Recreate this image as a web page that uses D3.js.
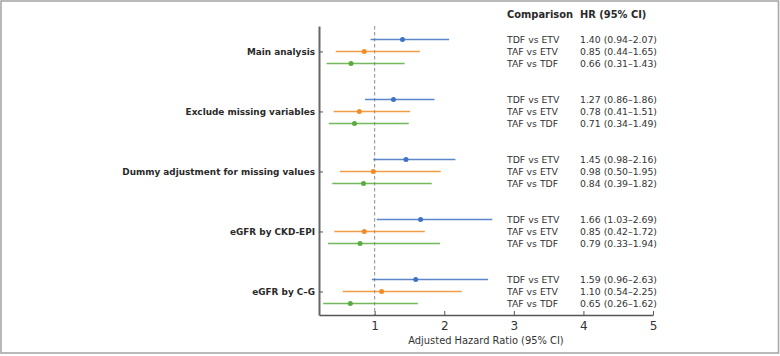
<!DOCTYPE html>
<html>
<head>
<meta charset="utf-8">
<script src="https://cdn.jsdelivr.net/npm/d3@7"></script>
<style>
  body { margin: 0; background: #fff; }
  svg { display: block; font-family: 'DejaVu Sans', sans-serif; }
</style>
</head>
<body>
<svg id="chart"></svg>
<script>
// data
const groups = ['Main analysis', 'Exclude missing variables', 'Dummy adjustment for missing values', 'eGFR by CKD-EPI', 'eGFR by C\u2013G']
const comparisons = ['TDF vs ETV', 'TAF vs ETV', 'TAF vs TDF']
const hr = [
    [1.40, 0.85, 0.66],
    [1.27, 0.78, 0.71],
    [1.45, 0.98, 0.84],
    [1.66, 0.85, 0.79],
    [1.59, 1.10, 0.65]
]
const lower = [
    [0.94, 0.44, 0.31],
    [0.86, 0.41, 0.34],
    [0.98, 0.50, 0.39],
    [1.03, 0.42, 0.33],
    [0.96, 0.54, 0.26]
]
const upper = [
    [2.07, 1.65, 1.43],
    [1.86, 1.51, 1.49],
    [2.16, 1.95, 1.82],
    [2.69, 1.72, 1.94],
    [2.63, 2.25, 1.62]
]
const xTicks = [1, 2, 3, 4, 5]
const colors = ['#3f72c2', '#f28c28', '#5aac3e']

const W = 780, H = 356
const margin = {top: 26, left: 319, right: 127, bottom: 41}
const width = W - margin.left - margin.right
const height = H - margin.top - margin.bottom

const rows = []
groups.forEach((g, gi) => {
    comparisons.forEach((c, ci) => {
        rows.push({group: g, gi: gi, ci: ci, comp: c, pos: gi * 5 + ci,
            hr: hr[gi][ci], lo: lower[gi][ci], hi: upper[gi][ci]})
    })
})

const svg = d3.select('#chart').attr('width', W).attr('height', H)

// outer frame
svg.append('rect')
    .attr('x', 1).attr('y', 1)
    .attr('width', W - 2.5).attr('height', H - 4)
    .attr('fill', 'none').attr('stroke', '#a8a8a8').attr('stroke-width', 1.6)

const chart = svg.append('g').attr('transform', `translate(${margin.left},${margin.top})`)

const xScale = d3.scaleLinear().domain([0.2, 5]).range([0, width])
const yScale = d3.scaleLinear().domain([-1.12, 22.96]).range([0, height])

// reference line at HR = 1
chart.append('line')
    .attr('x1', xScale(1)).attr('x2', xScale(1))
    .attr('y1', 0).attr('y2', height)
    .attr('stroke', '#8a8a8a').attr('stroke-width', 1)
    .attr('stroke-dasharray', '3.5,2.5')

// x axis
const xAxis = d3.axisBottom(xScale).tickValues(xTicks).tickFormat(d3.format('d'))
    .tickSizeInner(-4).tickSizeOuter(0).tickPadding(6)
const xAxisG = chart.append('g')
    .attr('transform', `translate(0,${height})`)
    .call(xAxis)
xAxisG.select('.domain').attr('stroke', '#555').attr('stroke-width', 1.3)
xAxisG.selectAll('.tick line').attr('stroke', '#555')
xAxisG.selectAll('.tick text')
    .attr('font-size', 12).attr('fill', '#333')
    .attr('font-family', "'DejaVu Sans', sans-serif")

chart.append('text')
    .attr('x', width / 2).attr('y', height + 29)
    .attr('text-anchor', 'middle')
    .attr('font-size', 9.9).attr('fill', '#333')
    .text('Adjusted Hazard Ratio (95% CI)')

// y axis with group labels
const yAxis = d3.axisLeft(yScale)
    .tickValues(groups.map((g, i) => i * 5 + 1))
    .tickFormat((d, i) => groups[i])
    .tickSizeInner(-4).tickSizeOuter(0).tickPadding(4)
const yAxisG = chart.append('g').call(yAxis)
yAxisG.select('.domain').attr('stroke', '#666').attr('stroke-width', 2)
yAxisG.selectAll('.tick line').attr('stroke', '#555')
yAxisG.selectAll('.tick text')
    .attr('font-size', 8.9).attr('font-weight', 'bold').attr('fill', '#2a2a2a')
    .attr('font-family', "'DejaVu Sans', sans-serif")

// CI lines
chart.selectAll('.ci')
    .data(rows)
    .join('line')
        .attr('class', 'ci')
        .attr('x1', d => xScale(d.lo))
        .attr('x2', d => xScale(d.hi))
        .attr('y1', d => yScale(d.pos))
        .attr('y2', d => yScale(d.pos))
        .attr('stroke', d => colors[d.ci])
        .attr('stroke-opacity', 0.85)
        .attr('stroke-width', 1.4)

// point estimates
chart.selectAll('.point')
    .data(rows)
    .join('circle')
        .attr('class', 'point')
        .attr('r', 2.5)
        .attr('cx', d => xScale(d.hr))
        .attr('cy', d => yScale(d.pos))
        .attr('fill', d => colors[d.ci])

// text table on the right
const colComp = 507, colHR = 580
svg.append('text')
    .attr('x', colComp).attr('y', margin.top + yScale(-2.05))
    .attr('dy', '0.35em').attr('font-size', 9.9).attr('font-weight', 'bold').attr('fill', '#2a2a2a')
    .text('Comparison')
svg.append('text')
    .attr('x', colHR).attr('y', margin.top + yScale(-2.05))
    .attr('dy', '0.35em').attr('font-size', 9.9).attr('font-weight', 'bold').attr('fill', '#2a2a2a')
    .text('HR (95% CI)')

svg.selectAll('.comp')
    .data(rows)
    .join('text')
        .attr('class', 'comp')
        .attr('x', colComp)
        .attr('y', d => margin.top + yScale(d.pos))
        .attr('dy', '0.35em')
        .attr('font-size', 9.3).attr('fill', '#333')
        .text(d => d.comp)

svg.selectAll('.hrtext')
    .data(rows)
    .join('text')
        .attr('class', 'hrtext')
        .attr('x', colHR)
        .attr('y', d => margin.top + yScale(d.pos))
        .attr('dy', '0.35em')
        .attr('font-size', 9.3).attr('fill', '#333')
        .text(d => `${d.hr.toFixed(2)} (${d.lo.toFixed(2)}\u2013${d.hi.toFixed(2)})`)
</script>
</body>
</html>
